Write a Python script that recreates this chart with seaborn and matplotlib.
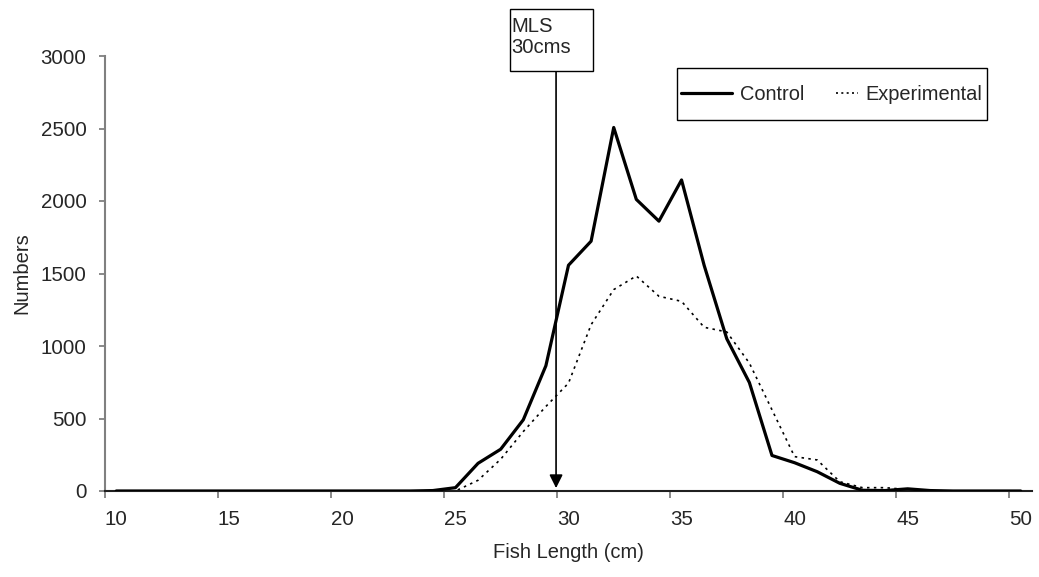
import numpy as np
import pandas as pd
import matplotlib
matplotlib.use("Agg")
import matplotlib.pyplot as plt
import matplotlib.patches as mpatches
from matplotlib.lines import Line2D
from matplotlib.legend_handler import HandlerLine2D
import seaborn as sns

# ---- data ----
lengths = list(range(10, 51))
control = [0]*14 + [3, 23, 191, 288, 491, 864, 1557, 1723, 2507, 2011, 1861, 2145,
                    1556, 1050, 748, 245, 195, 133, 53, 5, 3, 15, 3, 0, 0, 0, 0]
experimental = [0]*15 + [0, 74, 219, 410, 583, 744, 1147, 1389, 1483, 1343, 1308,
                         1129, 1097, 882, 560, 237, 214, 64, 23, 23, 10, 0, 0, 0, 0, 0]
series_names = ["Control", "Experimental"]
xtick_labels = [10, 15, 20, 25, 30, 35, 40, 45, 50]
yticks = [0, 500, 1000, 1500, 2000, 2500, 3000]
mls_value = 29.45
mls_text = "MLS\n30cms"

df = pd.DataFrame({"Length": lengths, "Control": control, "Experimental": experimental})
long = df.melt(id_vars="Length", var_name="Series", value_name="Numbers")

sns.set_theme(style="white")
plt.rcParams["font.family"] = ["Liberation Sans", "DejaVu Sans"]

DOT = (0, (1.5, 2.6))
W, H, DPI = 1039, 577, 100
fig = plt.figure(figsize=(W/DPI, H/DPI), dpi=DPI)
left, right, bottom, top = 105, 1032, 491, 56
ax = fig.add_axes([left/W, 1 - bottom/H, (right-left)/W, (bottom-top)/H])

sns.lineplot(data=long, x="Length", y="Numbers", hue="Series",
             hue_order=series_names,
             palette={"Control": "black", "Experimental": "black"},
             ax=ax, legend=False)
lines = ax.get_lines()
lines[0].set_linewidth(2.3)
lines[0].set_zorder(3)
lines[1].set_linewidth(1.2)
lines[1].set_linestyle(DOT)
lines[1].set_zorder(2)

ax.set_xlim(9.5, 50.5)
ax.set_ylim(0, 3000)
ax.set_yticks(yticks)
ax.set_yticklabels([str(v) for v in yticks], fontsize=14.8)
ax.set_xticks([v - 0.5 for v in xtick_labels])
ax.set_xticklabels([])
ax.set_xticks(xtick_labels, minor=True)
ax.set_xticklabels([str(v) for v in xtick_labels], minor=True, fontsize=14.8)
ax.tick_params(axis="x", which="major", direction="out", length=5, width=1.3,
               color="#808080", bottom=True)
ax.tick_params(axis="x", which="minor", length=0, pad=14, bottom=True)
ax.tick_params(axis="y", direction="out", length=4.3, width=1.3, color="#808080",
               left=True, pad=9)
for s in ["top", "right"]:
    ax.spines[s].set_visible(False)
ax.spines["left"].set_color("#808080")
ax.spines["left"].set_linewidth(1.5)
ax.spines["bottom"].set_color("#202020")
ax.spines["bottom"].set_linewidth(1.5)

ax.set_xlabel("Fish Length (cm)", fontsize=14.5, labelpad=10)
ax.set_ylabel("Numbers", fontsize=14.5, labelpad=7)


class RightShortHandler(HandlerLine2D):
    def __init__(self, frac, **kw):
        super().__init__(**kw)
        self.frac = frac

    def create_artists(self, legend, orig_handle, xdescent, ydescent, width,
                       height, fontsize, trans):
        short = width * self.frac
        return super().create_artists(legend, orig_handle,
                                      xdescent - (width - short), ydescent,
                                      short, height, fontsize, trans)


# legend (frame drawn as a separate rectangle)
ax.add_patch(mpatches.Rectangle((677/W, 1 - 120/H), (987-677)/W, (120-68)/H,
                                transform=fig.transFigure, fc="white",
                                ec="black", lw=1.0, zorder=6, clip_on=False))
h_ctrl = Line2D([], [], color="black", lw=2.3)
h_exp = Line2D([], [], color="black", lw=1.2, linestyle=(0, (1.2, 2.0)))
leg = ax.legend([h_ctrl, h_exp], series_names, ncol=2, loc="center left",
                bbox_to_anchor=(681/W, 1 - 94/H), bbox_transform=fig.transFigure,
                borderaxespad=0, borderpad=0, fontsize=14.4, frameon=False,
                handlelength=2.55, handletextpad=0.4, columnspacing=0.12,
                handler_map={h_exp: RightShortHandler(0.43)})
leg.set_zorder(7)

# MLS annotation
ax.annotate("", xy=(mls_value, 20), xytext=(mls_value, 2905),
            arrowprops=dict(arrowstyle="-|>", color="black", lw=1.2,
                            mutation_scale=20, shrinkA=0, shrinkB=0))
fig.patches.append(mpatches.Rectangle((510/W, 1 - 71/H), (593-510)/W, (71-9)/H,
                                      transform=fig.transFigure, fc="white",
                                      ec="black", lw=1.0, zorder=0))
fig.text(511.5/W, 1 - 17.5/H, mls_text, fontsize=14.6, ha="left", va="top",
         linespacing=1.12)

fig.savefig("out.png", dpi=DPI)
